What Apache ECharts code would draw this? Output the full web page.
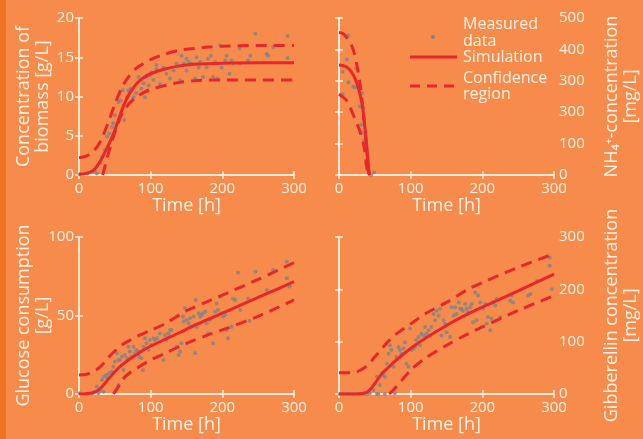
<!DOCTYPE html>
<html><head><meta charset="utf-8">
<script src="https://cdn.jsdelivr.net/npm/echarts@6/dist/echarts.min.js"></script>
<style>html,body{margin:0;padding:0;background:#F68B4B}#c{width:643px;height:439px}</style>
</head><body><div id="c"></div>
<script>
// ---------- DATA ----------
const timeTicks = [0, 100, 200, 300];
const nh4TickLabels = ['0', '100', '300', '300', '400', '500'];

const biomassMeasured = [[1,0.1],[12,0.2],[19,0.4],[22,0.6],[25,0.2],[29,1.5],[32,2.3],[36,3.2],[39,4.9],[42,5.3],[46,6.1],[48,6.6],[50,7.6],[55,9.3],[58,9.5],[61,10.8],[63,7.0],[67,9.9],[69,10.8],[72,11.0],[76,9.9],[80,10.4],[83,12.5],[87,11.0],[90,11.7],[92,9.9],[94,12.5],[97,11.4],[99,12.7],[101,13.1],[104,12.1],[108,13.5],[108,14.0],[113,11.6],[118,13.7],[122,12.9],[127,12.3],[132,13.3],[136,14.2],[141,12.1],[143,15.2],[146,14.2],[150,13.3],[150,14.8],[153,14.4],[157,14.2],[162,12.3],[164,15.0],[167,13.7],[169,14.4],[173,12.5],[178,13.7],[180,14.8],[184,15.2],[187,12.5],[190,14.4],[193,12.3],[197,16.5],[199,13.7],[204,14.6],[206,15.2],[210,12.9],[213,14.6],[215,14.2],[224,16.1],[225,14.2],[236,14.6],[239,15.2],[246,18.0],[262,15.4],[264,15.2],[271,16.3],[291,17.7],[291,14.9]];
const biomassSim = [[0,0.1],[10,0.2],[20,0.6],[30,1.8],[40,3.6],[45,4.6],[50,5.7],[55,7.0],[60,8.3],[65,9.4],[70,10.3],[80,11.6],[90,12.4],[100,12.9],[120,13.5],[140,13.9],[160,14.1],[200,14.25],[250,14.3],[300,14.3]];
const biomassUpper = [[0,2.2],[10,2.4],[20,3.0],[30,4.3],[40,6.5],[50,9.0],[60,11.2],[70,12.6],[80,13.6],[90,14.2],[100,14.7],[120,15.4],[140,15.9],[160,16.1],[180,16.3],[200,16.4],[250,16.5],[300,16.5]];
const biomassLower = [[33,0],[40,2.4],[45,4.0],[50,5.4],[55,6.7],[60,7.8],[70,9.1],[80,9.9],[90,10.5],[100,10.9],[120,11.4],[140,11.8],[160,12.0],[180,12.1],[200,12.1],[250,12.1],[300,12.1]];

const nh4Measured = [[5,257],[5,329],[11,368],[13,295],[13,444],[20,281],[23,279],[24,340],[29,218],[32,260],[34,212],[31,160],[32,135],[35,111],[36,90],[38,37],[42,5],[45,0],[49,8]];
const nh4Sim = [[0,350],[5,349],[10,345],[15,335],[20,318],[25,292],[30,250],[33,215],[35,175],[37,135],[38,111],[40,58],[42,5],[43,0]];
const nh4Upper = [[0,454],[5,451],[10,440],[15,425],[20,398],[25,350],[30,281],[33,220],[35,175],[38,100],[40,48],[42,5],[43,0]];
const nh4Lower = [[0,257],[5,249],[10,239],[15,218],[20,191],[25,165],[30,133],[35,90],[38,37],[40,5],[41,0]];

const glucoseMeasured = [[1,0.4],[11,0],[18,0.4],[22,1.5],[25,4.7],[27,0.4],[29,2.1],[32,8.9],[34,1.5],[35,11],[38,12.1],[40,10],[42,13.2],[46,14.2],[48,17.4],[50,20.6],[53,25.9],[55,5.7],[55,21.7],[57,21.7],[60,23.8],[62,15.3],[64,24.8],[67,22.7],[69,30.1],[71,27],[73,23.8],[76,30.1],[78,25.9],[80,28],[83,27],[84,23.8],[87,22.7],[89,15.3],[90,30.1],[92,35.5],[94,32.3],[97,28],[99,34.4],[101,31.2],[104,35.5],[106,34.4],[109,35.5],[113,38.6],[118,21.7],[120,37.6],[122,34.4],[125,38.6],[127,40.8],[129,40.8],[136,30.1],[139,24.8],[141,27],[143,32.3],[145,49.3],[146,46.1],[148,54.6],[150,47.1],[153,45],[155,48.2],[157,42.9],[160,49.3],[162,25.9],[163,59.9],[164,42.9],[167,51.4],[169,49.3],[171,50.3],[173,51.4],[176,52.4],[178,45],[180,38.6],[183,47.1],[187,32.3],[190,52.4],[192,57.7],[194,53.5],[197,62],[201,49.3],[204,50.3],[206,40.8],[208,35.5],[211,53.5],[213,42.9],[215,60.9],[218,59.9],[222,77.3],[225,53.5],[236,60.9],[238,46.7],[246,77.9],[262,66.2],[271,79],[290,84.3],[290,73.7],[294,68.4]];
const glucoseSim = [[0,0],[10,0.2],[20,0.8],[30,3.6],[40,8.9],[50,14.2],[60,18.5],[70,22],[80,25],[90,28],[100,30.5],[120,34.8],[140,39],[160,43.5],[180,47.5],[200,51.5],[220,55.5],[250,61.5],[280,67.5],[300,71.5]];
const glucoseUpper = [[0,12.1],[10,12.5],[20,14.2],[30,17.4],[40,22.7],[50,27.4],[60,31.2],[70,34],[80,36.5],[100,40.5],[120,44.8],[150,53],[180,59],[200,63],[250,73],[300,83.6]];
const glucoseLower = [[48,0],[55,4.7],[60,8.9],[70,13.2],[80,16.3],[100,21.7],[120,25.9],[150,32.3],[180,37.6],[200,40.8],[250,49.5],[300,59.9]];

const gibMeasured = [[1,0],[6,0],[11,0],[15,0],[20,0],[25,0],[29,0],[34,0],[39,0],[43,1.3],[48,7.6],[50,20],[53,33],[53,0],[55,0],[57,17],[60,39],[62,36],[64,33],[64,0],[67,58],[69,77],[71,93],[73,84],[76,52],[78,1.3],[80,71],[83,90],[85,84],[87,77],[90,87],[92,99],[94,58],[97,52],[99,125],[101,84],[104,87],[106,90],[108,103],[111,109],[113,93],[115,115],[118,112],[120,128],[122,115],[125,122],[127,112],[129,128],[132,153],[134,141],[136,159],[139,150],[141,163],[143,112],[146,141],[148,134],[150,118],[155,109],[157,166],[160,150],[162,166],[164,153],[167,175],[169,163],[171,163],[173,159],[176,172],[178,163],[180,156],[183,166],[185,172],[187,137],[190,194],[192,141],[194,188],[197,175],[199,128],[201,163],[204,172],[206,134],[208,147],[211,122],[213,144],[215,175],[218,169],[220,182],[225,147],[239,178],[241,188],[243,175],[264,188],[267,191],[276,216],[294,261],[294,245],[297,200]];
const gibSim = [[0,0],[20,0],[30,0.5],[35,1.5],[40,4.4],[45,11],[50,20],[60,39],[70,52],[80,65],[100,87],[120,106],[150,131],[180,153],[200,166],[250,197],[300,229]];
const gibUpper = [[0,40.5],[20,40.5],[30,45.6],[40,55],[50,71],[60,87],[70,102.5],[80,115],[100,134],[120,153],[150,175],[180,200],[200,213],[250,242],[300,268]];
const gibLower = [[70,0],[80,14],[100,45.6],[120,68],[150,93],[180,115],[200,128],[250,159.5],[300,188]];

// ---------- STYLE ----------
const FONT = 'Open Sans';
const TXT = '#FFF3E6';
const FRAME = '#FFF1E2';
const RED = '#E8262B';
const GREY = '#7A848C';

const panels = [
  {left:79, top:18, side:'left', min:0, max:20, interval:5, name:'Concentration of\nbiomass [g/L]',
   meas:biomassMeasured, sim:biomassSim, up:biomassUpper, lo:biomassLower},
  {left:339, top:18, side:'right', min:0, max:500, interval:100, name:'NH\u2084\u207A-concentration\n[mg/L]',
   meas:nh4Measured, sim:nh4Sim, up:nh4Upper, lo:nh4Lower, labels:nh4TickLabels},
  {left:79, top:237, side:'left', min:0, max:100, interval:50, name:'Glucose consumption\n[g/L]',
   meas:glucoseMeasured, sim:glucoseSim, up:glucoseUpper, lo:glucoseLower},
  {left:339, top:237, side:'right', min:0, max:300, interval:100, name:'Gibberellin concentration\n[mg/L]',
   meas:gibMeasured, sim:gibSim, up:gibUpper, lo:gibLower}
];

const grid = [], xAxis = [], yAxis = [], series = [];
const lineAx = {show:true, lineStyle:{color:FRAME, width:1.5}};
const tickAx = {show:true, inside:true, length:4, lineStyle:{color:FRAME, width:1.5}};
panels.forEach((p, i) => {
  grid.push({left:p.left, top:p.top, width:215, height:157, containLabel:false});
  const xi = xAxis.length;
  xAxis.push({type:'value', gridIndex:i, position:'bottom', min:0, max:300, interval:100,
    axisLine:lineAx, axisTick:tickAx, splitLine:{show:false},
    axisLabel:{color:TXT, fontFamily:FONT, fontSize:15, margin:6,
      formatter:v => timeTicks.indexOf(v) >= 0 ? String(v) : ''},
    name:'Time [h]', nameLocation:'middle', nameGap:22, nameMoveOverlap:false,
    nameTextStyle:{color:TXT, fontFamily:FONT, fontSize:18}});
  xAxis.push({type:'value', gridIndex:i, position:'top', min:0, max:300, interval:100,
    axisLine:lineAx, axisTick:tickAx, splitLine:{show:false}, axisLabel:{show:false}});
  const yi = yAxis.length;
  yAxis.push({type:'value', gridIndex:i, position:p.side, min:p.min, max:p.max, interval:p.interval,
    axisLine:lineAx, axisTick:tickAx, splitLine:{show:false},
    axisLabel:{color:TXT, fontFamily:FONT, fontSize:15, margin:5,
      formatter: p.labels ? (v => p.labels[Math.round(v / p.interval)]) : (v => String(v))},
    name:p.name, nameLocation:'middle', nameRotate:90, nameGap: p.side === 'left' ? 27 : 48,
    nameMoveOverlap:false,
    nameTextStyle:{color:TXT, fontFamily:FONT, fontSize:18, lineHeight:19}});
  yAxis.push({type:'value', gridIndex:i, position:p.side === 'left' ? 'right' : 'left',
    min:p.min, max:p.max, interval:p.interval,
    axisLine:lineAx, axisTick:tickAx, splitLine:{show:false}, axisLabel:{show:false}});
  series.push({type:'scatter', xAxisIndex:xi, yAxisIndex:yi, data:p.meas, symbolSize:4,
    itemStyle:{color:GREY}, z:2, silent:true});
  series.push({type:'line', xAxisIndex:xi, yAxisIndex:yi, data:p.sim, showSymbol:false, smooth:0.3,
    lineStyle:{color:RED, width:3}, z:4, clip:true});
  [p.up, p.lo].forEach(d => series.push({type:'line', xAxisIndex:xi, yAxisIndex:yi, data:d,
    showSymbol:false, smooth:0.3, lineStyle:{color:RED, width:3, type:[11,7]}, z:3, clip:true}));
});

const chart = echarts.init(document.getElementById('c'), null, {renderer:'canvas'});
chart.setOption({
  backgroundColor:'#F68B4B',
  animation:false,
  grid, xAxis, yAxis, series,
  graphic:[
    {type:'rect', shape:{x:0, y:0, width:6, height:439}, style:{fill:'#EF7321'}, silent:true},
    {type:'circle', shape:{cx:433, cy:37, r:2}, style:{fill:GREY}, silent:true},
    {type:'line', shape:{x1:410, y1:57, x2:457, y2:57}, style:{stroke:RED, lineWidth:3}, silent:true},
    {type:'line', shape:{x1:410, y1:86, x2:457, y2:86}, style:{stroke:RED, lineWidth:3, lineDash:[10,7]}, silent:true},
    {type:'text', x:463, y:33, style:{text:'Measured\ndata', fill:TXT, fontFamily:FONT, fontSize:16, lineHeight:16.5, align:'left', verticalAlign:'middle'}, silent:true},
    {type:'text', x:463, y:57, style:{text:'Simulation', fill:TXT, fontFamily:FONT, fontSize:16, align:'left', verticalAlign:'middle'}, silent:true},
    {type:'text', x:463, y:86.5, style:{text:'Confidence\nregion', fill:TXT, fontFamily:FONT, fontSize:16, lineHeight:16, align:'left', verticalAlign:'middle'}, silent:true}
  ]
});
</script></body></html>
